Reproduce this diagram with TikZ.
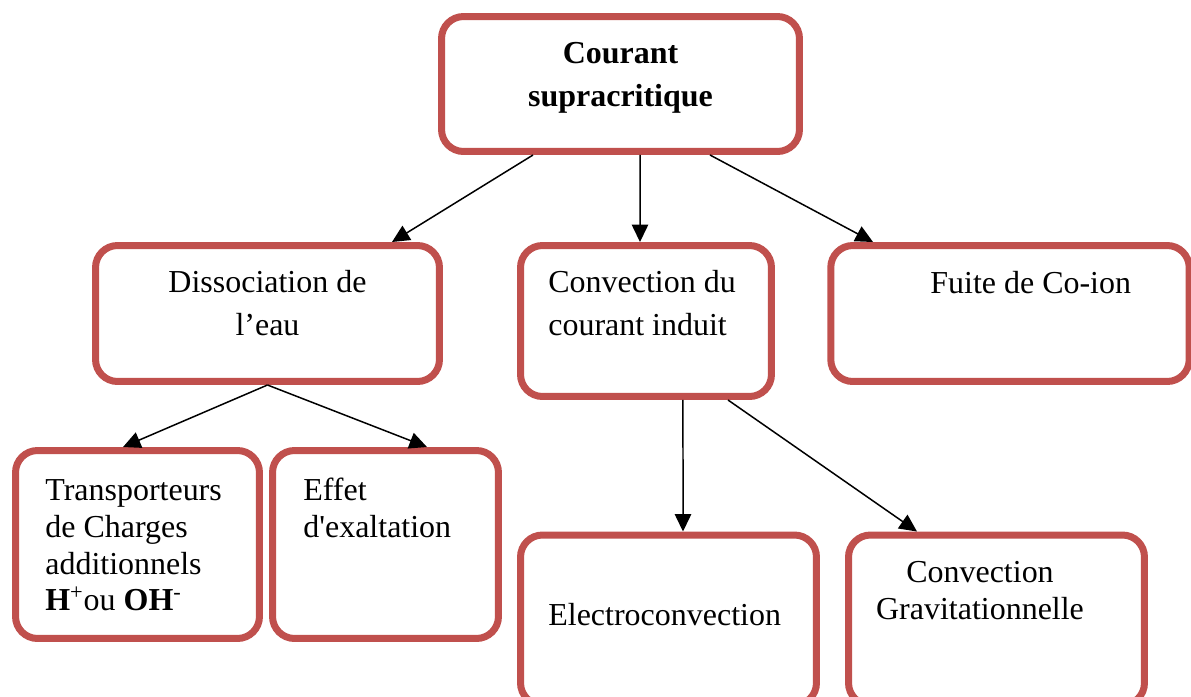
\documentclass[tikz,border=0pt]{standalone}
\usepackage{fontspec}
\setmainfont{Liberation Serif}
\usetikzlibrary{arrows.meta}
\definecolor{boxred}{HTML}{C0504D}

\begin{document}
\begin{tikzpicture}[x=0.02cm, y=-0.02cm]
		\tikzset{boite/.style = {draw=boxred, line width=0.14cm, rounded corners=0.44cm, fill=white, inner sep=0pt}}
		\tikzset{texte/.style = {inner sep=0pt, font=\fontsize{18.2pt}{24.4pt}\selectfont}}
		\tikzset{petit/.style = {inner sep=0pt, font=\fontsize{18.2pt}{21pt}\selectfont}}
		\tikzset{fleche/.style = {-{Triangle[length=0.35cm, width=0.33cm]}, line width=0.03cm}}
		
		\useasboundingbox (0,0) rectangle (1191,697);
		\clip (0,0) rectangle (1191,697);
		
		% boites
		\node[boite, minimum width=7.16cm, minimum height=2.70cm] (courant) at ( 620.5,   84) {};
		\node[boite, minimum width=6.88cm, minimum height=2.72cm] (diss)    at ( 267.5,  313.5) {};
		\node[boite, minimum width=5.02cm, minimum height=3.02cm] (conv)    at ( 646,    321) {};
		\node[boite, minimum width=7.17cm, minimum height=2.72cm] (fuite)   at (1010,    313.5) {};
		\node[boite, minimum width=4.88cm, minimum height=3.76cm] (trans)   at ( 137.5,  544.5) {};
		\node[boite, minimum width=4.52cm, minimum height=3.76cm] (effet)   at ( 385.5,  544.5) {};
		\node[boite, minimum width=5.92cm, minimum height=3.40cm] (elec)    at ( 668.5,  620) {};
		\node[boite, minimum width=5.92cm, minimum height=3.40cm] (grav)    at ( 996.5,  620) {};
		
		% textes
		\node[texte, anchor=north, align=center]      (courantT) at ( 620.5,  42) {\textbf{Courant}\\\textbf{supracritique}};
		\node[texte, anchor=north, align=center]      (dissT)    at ( 267.5, 270) {Dissociation de\\l’eau};
		\node[texte, anchor=north west, align=left]   (convT)    at ( 548,   270) {Convection du\\courant induit};
		\node[texte, anchor=north west]               (fuiteT)   at ( 930,   271) {Fuite de Co-ion};
		\node[petit, anchor=north west, align=left]   (transT)   at (  45,   479) {Transporteurs\\de Charges\\additionnels\\\textbf{H}\textsuperscript{+}ou \textbf{OH}\textsuperscript{-}};
		\node[petit, anchor=north west, align=left]   (effetT)   at ( 303,   478) {Effet\\d\textquotesingle exaltation};
		\node[texte, anchor=north west]               (elecT)    at ( 548,   603) {Electroconvection};
		\node[petit, anchor=north, align=center]      (gravT)    at ( 980,   561) {Convection\\Gravitationnelle};
		
		% fleches
		\draw[fleche] ([xshift=-1.75cm]courant.south) to ([xshift=2.49cm]diss.north);
		\draw[fleche] ([xshift=0.39cm]courant.south)  to ([xshift=-0.12cm]conv.north);
		\draw[fleche] ([xshift=1.79cm]courant.south)  to ([xshift=-2.74cm]fuite.north);
		\draw[fleche] (diss.south) to ([xshift=-0.29cm]trans.north);
		\draw[fleche] (diss.south) to ([xshift=0.83cm]effet.north);
		\draw[fleche] ([xshift=0.74cm]conv.south) to ([xshift=0.29cm]elec.north);
		\draw[fleche] ([xshift=1.64cm]conv.south) to ([xshift=-1.59cm]grav.north);
\end{tikzpicture}
\end{document}
